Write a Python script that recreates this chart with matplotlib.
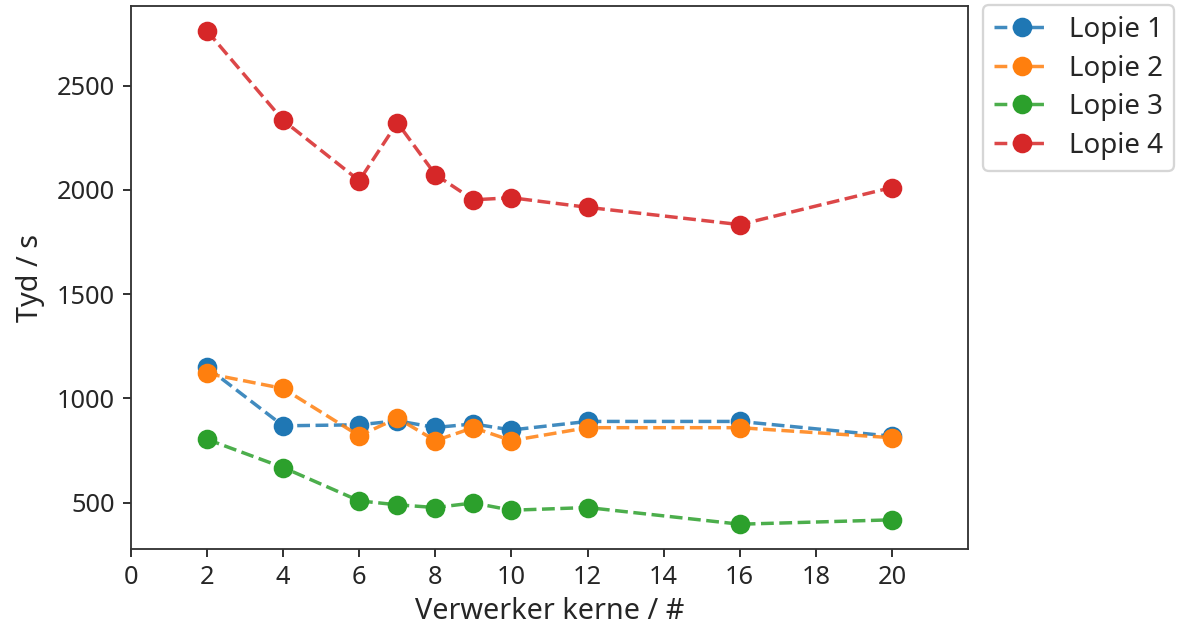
import matplotlib
matplotlib.use("Agg")
import matplotlib.pyplot as plt
from matplotlib.colors import to_rgba

# Data
cores = [2, 4, 6, 7, 8, 9, 10, 12, 16, 20]
lopie_1 = [1148, 868, 873, 892, 860, 877, 848, 889, 889, 818]
lopie_2 = [1119, 1047, 820, 905, 797, 859, 797, 859, 859, 811]
lopie_3 = [803, 668, 508, 489, 476, 498, 463, 476, 396, 417]
lopie_4 = [2762, 2333, 2044, 2322, 2073, 1952, 1962, 1916, 1833, 2011]
labels = ["Lopie 1", "Lopie 2", "Lopie 3", "Lopie 4"]
series = [lopie_1, lopie_2, lopie_3, lopie_4]
colors = ["#1f77b4", "#ff7f0e", "#2ca02c", "#d62728"]
x_ticks = list(range(0, 21, 2))

text_color = "#262626"
plt.rcParams["font.family"] = ["Noto Sans", "DejaVu Sans"]
plt.rcParams["text.color"] = text_color
plt.rcParams["axes.labelcolor"] = text_color
plt.rcParams["xtick.color"] = text_color
plt.rcParams["ytick.color"] = text_color

dpi = 166
fig = plt.figure(figsize=(1184 / dpi, 628 / dpi), dpi=dpi)
ax = fig.add_axes([0.1106, 0.126, 0.8176 - 0.1106, 0.990 - 0.126])

for y, lab, c in zip(series, labels, colors):
    ax.plot(cores, y, linestyle="--", linewidth=1.5, color=to_rgba(c, 0.85),
            marker="o", markersize=7.5, markerfacecolor=c, markeredgecolor=c,
            label=lab)

ax.set_xlim(0, 22)
ax.set_xticks(x_ticks)
ax.set_yticks([500, 1000, 1500, 2000, 2500])
ax.tick_params(labelsize=11)
ax.set_xlabel("Verwerker kerne / #", fontsize=12.5, labelpad=3)
ax.set_ylabel("Tyd / s", fontsize=12.5, labelpad=5)
for s in ax.spines.values():
    s.set_color("#333333")

fig.legend(loc="upper left", bbox_to_anchor=(983 / 1184, 1 - 5 / 628),
           borderaxespad=0, fontsize=12, labelspacing=0.38,
           handletextpad=0.7)

fig.savefig("out.png", dpi=dpi)
